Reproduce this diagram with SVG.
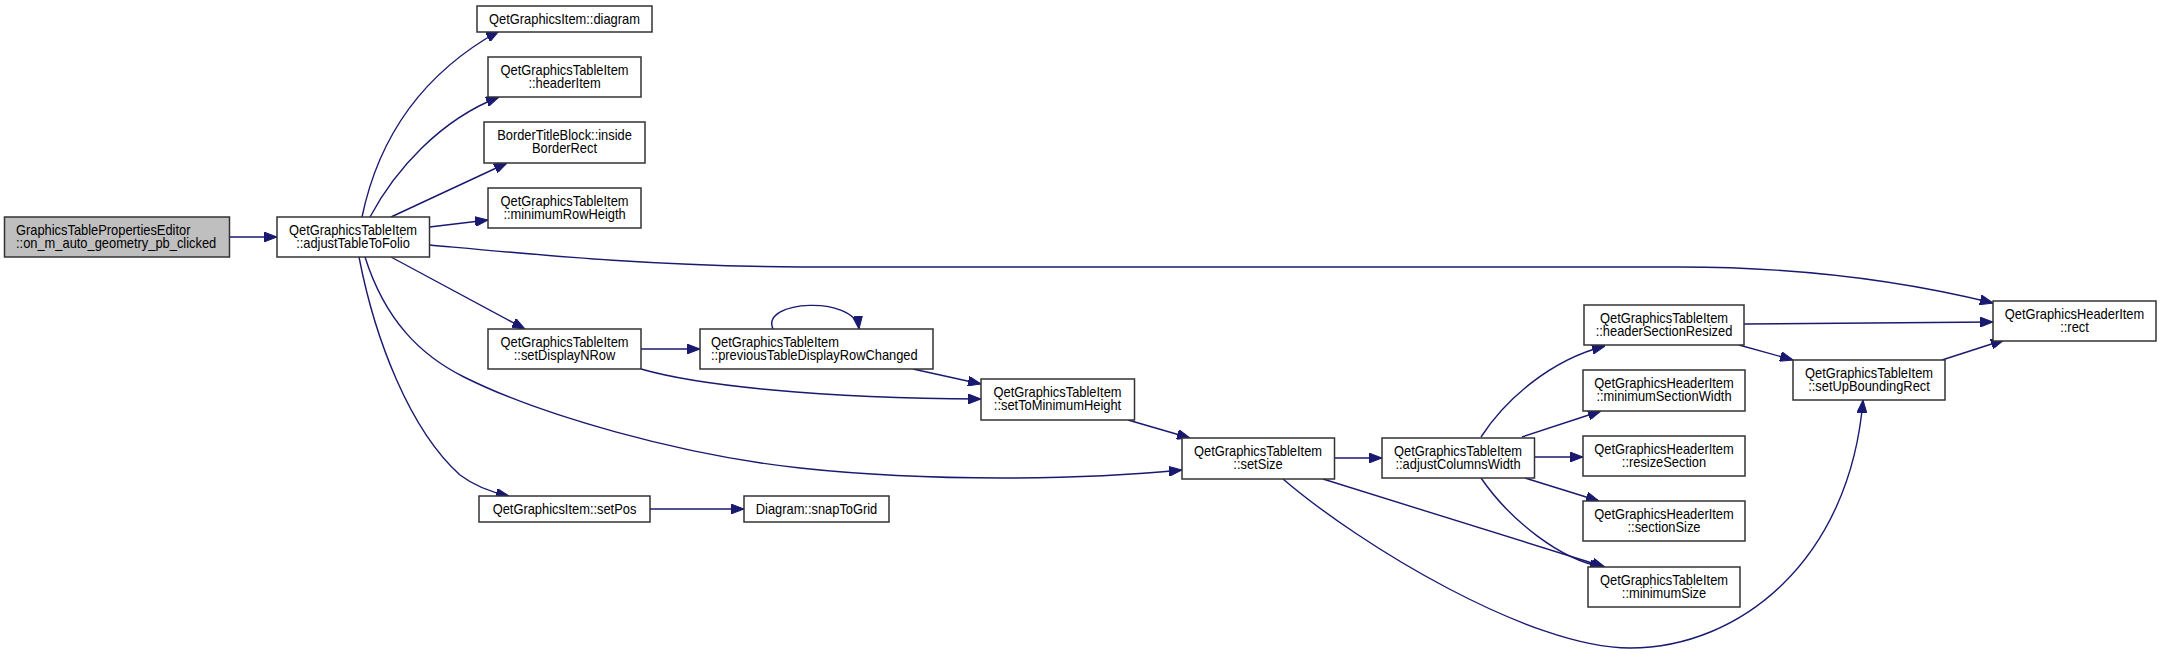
<svg xmlns="http://www.w3.org/2000/svg" width="2161" height="655" viewBox="0 0 2161 655">
<style>
.n rect{fill:#fff;stroke:#333;stroke-width:1.5}
.n.root rect{fill:#bfbfbf}
.n text{font-family:"Liberation Sans",Arial,sans-serif;font-size:14.8px;fill:#000;text-anchor:middle}
.n text.l{text-anchor:start}
#edges path{fill:none;stroke:#191970;stroke-width:1.4;marker-end:url(#ah)}
</style>
<defs>
<marker id="ah" markerUnits="userSpaceOnUse" markerWidth="13" markerHeight="10" refX="13" refY="5" orient="auto">
<path d="M0,0 L13,5 L0,10 z" fill="#191970" stroke="#191970" stroke-width="1"/>
</marker>
</defs>
<rect width="2161" height="655" fill="#fff"/>
<g id="edges">
<path d="M230,237 L277,237"/>
<path d="M362,217 C378,140 420,75 499,31"/>
<path d="M370,217 C395,170 440,120 499,97"/>
<path d="M391,217 L507,163"/>
<path d="M429.5,227 L488,220"/>
<path d="M429.5,245 C540,255 650,266 800,267 L1680,267 C1800,267 1900,280 1993,303"/>
<path d="M391,257 L525,329"/>
<path d="M365,257 C385,320 420,355 464,377 C540,415 680,455 800,468 C930,482 1080,480 1182,470"/>
<path d="M359,257 C375,340 410,430 460,475 Q480,490 509,496"/>
<path d="M641,349 L700,349"/>
<path d="M641,369 C700,386 820,398 981,399"/>
<path d="M913,369 L981,384"/>
<path d="M773,329 C760,300 855,295 859,329"/>
<path d="M1128,420 L1190,438"/>
<path d="M1334.5,458 L1382,458"/>
<path d="M1323,479 L1605,567"/>
<path d="M1283,479 C1360,545 1530,648 1630,648 C1740,648 1850,560 1863,400"/>
<path d="M650,509 L744,509"/>
<path d="M1481,437 C1505,400 1550,360 1605,346"/>
<path d="M1522,437 L1601,411"/>
<path d="M1534.5,457 L1583,457"/>
<path d="M1525,478 L1599,501"/>
<path d="M1481,478 C1510,520 1560,560 1603,567"/>
<path d="M1744,324 L1993,322"/>
<path d="M1739,345 L1793,360"/>
<path d="M1942,360 L2004,340"/>
</g>
<g id="n_root" class="n root"><rect x="4.5" y="217" width="225" height="40"/><text class="l" transform="translate(16,234.5) scale(0.87,1)">GraphicsTablePropertiesEditor</text><text class="l" transform="translate(16,248) scale(0.87,1)">::on_m_auto_geometry_pb_clicked</text></g>
<g id="n_adjustTableToFolio" class="n"><rect x="277" y="217" width="152.5" height="40"/><text transform="translate(353,234.5) scale(0.87,1)">QetGraphicsTableItem</text><text transform="translate(353,248) scale(0.87,1)">::adjustTableToFolio</text></g>
<g id="n_diagram" class="n"><rect x="477" y="6" width="175" height="26"/><text transform="translate(564.5,24) scale(0.87,1)">QetGraphicsItem::diagram</text></g>
<g id="n_headerItem" class="n"><rect x="488" y="57" width="153" height="40"/><text transform="translate(564.5,74.5) scale(0.87,1)">QetGraphicsTableItem</text><text transform="translate(564.5,88) scale(0.87,1)">::headerItem</text></g>
<g id="n_insideBorderRect" class="n"><rect x="484" y="122" width="161" height="41"/><text transform="translate(564.5,139.5) scale(0.87,1)">BorderTitleBlock::inside</text><text transform="translate(564.5,153) scale(0.87,1)">BorderRect</text></g>
<g id="n_minimumRowHeigth" class="n"><rect x="488" y="188" width="153" height="40"/><text transform="translate(564.5,205.5) scale(0.87,1)">QetGraphicsTableItem</text><text transform="translate(564.5,219) scale(0.87,1)">::minimumRowHeigth</text></g>
<g id="n_setDisplayNRow" class="n"><rect x="488" y="329" width="153" height="40"/><text transform="translate(564.5,346.5) scale(0.87,1)">QetGraphicsTableItem</text><text transform="translate(564.5,360) scale(0.87,1)">::setDisplayNRow</text></g>
<g id="n_setPos" class="n"><rect x="479" y="496" width="171" height="26"/><text transform="translate(564.5,514) scale(0.87,1)">QetGraphicsItem::setPos</text></g>
<g id="n_previousTableDisplayRowChanged" class="n"><rect x="700" y="329" width="233" height="40"/><text class="l" transform="translate(711,346.5) scale(0.87,1)">QetGraphicsTableItem</text><text class="l" transform="translate(711,360) scale(0.87,1)">::previousTableDisplayRowChanged</text></g>
<g id="n_setToMinimumHeight" class="n"><rect x="981" y="379" width="153.5" height="41"/><text transform="translate(1057.5,396.5) scale(0.87,1)">QetGraphicsTableItem</text><text transform="translate(1057.5,410) scale(0.87,1)">::setToMinimumHeight</text></g>
<g id="n_setSize" class="n"><rect x="1182" y="438" width="152.5" height="41"/><text transform="translate(1258,455.5) scale(0.87,1)">QetGraphicsTableItem</text><text transform="translate(1258,469) scale(0.87,1)">::setSize</text></g>
<g id="n_snapToGrid" class="n"><rect x="744" y="496" width="145" height="26"/><text transform="translate(816.5,514) scale(0.87,1)">Diagram::snapToGrid</text></g>
<g id="n_adjustColumnsWidth" class="n"><rect x="1382" y="438" width="152.5" height="40"/><text transform="translate(1458,455.5) scale(0.87,1)">QetGraphicsTableItem</text><text transform="translate(1458,469) scale(0.87,1)">::adjustColumnsWidth</text></g>
<g id="n_headerSectionResized" class="n"><rect x="1584" y="305" width="160" height="40"/><text transform="translate(1664,322.5) scale(0.87,1)">QetGraphicsTableItem</text><text transform="translate(1664,336) scale(0.87,1)">::headerSectionResized</text></g>
<g id="n_minimumSectionWidth" class="n"><rect x="1583" y="370" width="162" height="41"/><text transform="translate(1664,387.5) scale(0.87,1)">QetGraphicsHeaderItem</text><text transform="translate(1664,401) scale(0.87,1)">::minimumSectionWidth</text></g>
<g id="n_resizeSection" class="n"><rect x="1583" y="436" width="162" height="40"/><text transform="translate(1664,453.5) scale(0.87,1)">QetGraphicsHeaderItem</text><text transform="translate(1664,467) scale(0.87,1)">::resizeSection</text></g>
<g id="n_sectionSize" class="n"><rect x="1583" y="501" width="162" height="40"/><text transform="translate(1664,518.5) scale(0.87,1)">QetGraphicsHeaderItem</text><text transform="translate(1664,532) scale(0.87,1)">::sectionSize</text></g>
<g id="n_minimumSize" class="n"><rect x="1588" y="567" width="152" height="40"/><text transform="translate(1664,584.5) scale(0.87,1)">QetGraphicsTableItem</text><text transform="translate(1664,598) scale(0.87,1)">::minimumSize</text></g>
<g id="n_setUpBoundingRect" class="n"><rect x="1793" y="360" width="152" height="40"/><text transform="translate(1869,377.5) scale(0.87,1)">QetGraphicsTableItem</text><text transform="translate(1869,391) scale(0.87,1)">::setUpBoundingRect</text></g>
<g id="n_rect" class="n"><rect x="1993" y="301" width="163" height="40"/><text transform="translate(2074.5,318.5) scale(0.87,1)">QetGraphicsHeaderItem</text><text transform="translate(2074.5,332) scale(0.87,1)">::rect</text></g>
</svg>
